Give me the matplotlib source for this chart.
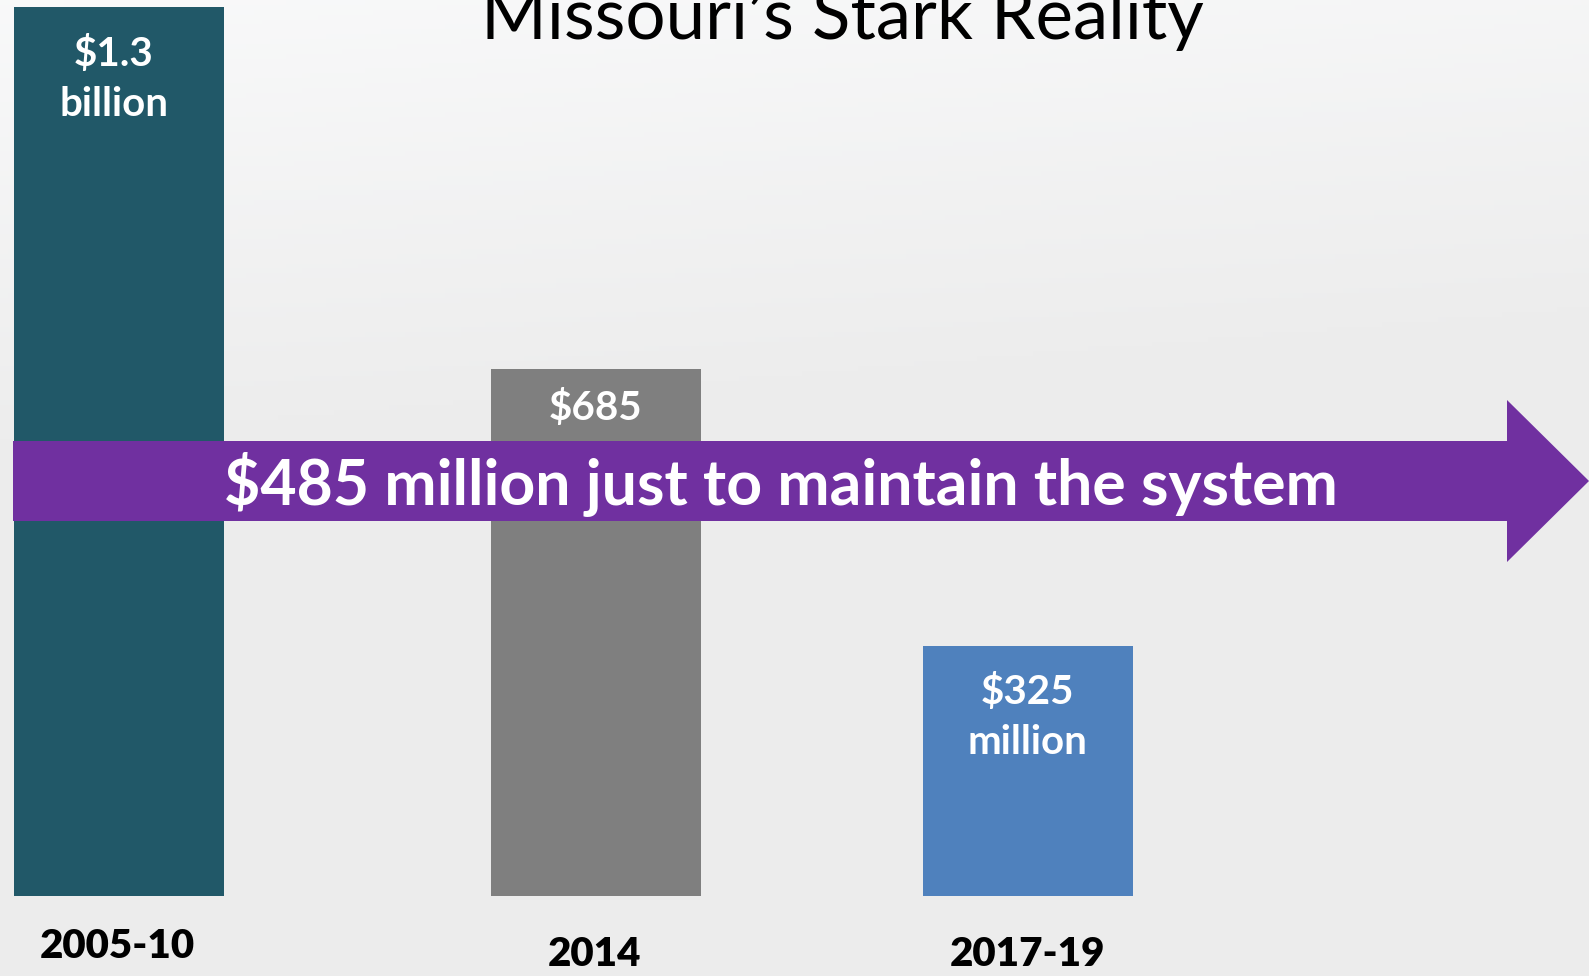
import matplotlib
matplotlib.use("Agg")
import matplotlib.pyplot as plt
import numpy as np
from matplotlib.patches import Polygon

W, H = 1589, 976
DPI = 100

# ---- data ----
categories = ["2005-10", "2014", "2017-19"]
values = [1300, 685, 325]  # $ millions
value_labels = ["$1.3\nbillion", "$685", "$325\nmillion"]
arrow_text = "$485 million just to maintain the system"
title = "Missouri\u2019s Stark Reality"

# ---- layout / style ----
positions = [118.5, 595.5, 1028]
bar_width = 210
colors = ["#215868", "#7F7F7F", "#4F81BD"]
purple = "#7030A0"
FONT = ["Lato", "DejaVu Sans"]

fig = plt.figure(figsize=(W / DPI, H / DPI), dpi=DPI)

# background gradient
bg = fig.add_axes([0, 0, 1, 1], zorder=0)
yy = np.linspace(0, 1, 200)[:, None]
xx = np.linspace(0, 1, 200)[None, :]
top = np.array([0.975, 0.977, 0.98])
bot = np.array([0.929, 0.929, 0.929])
t = np.clip(yy * 2.2 + xx * 0.3, 0, 1)[..., None]
img = top * (1 - t) + bot * t
bg.imshow(img, extent=[0, 1, 0, 1], aspect="auto", origin="upper")
bg.set_axis_off()

# main bar axes
ax_bottom = 896
ax_top = 7
ax = fig.add_axes([0, 1 - ax_bottom / H, 1, (ax_bottom - ax_top) / H], zorder=1)
ax.patch.set_alpha(0)
ax.bar(positions, values, width=bar_width, color=colors, zorder=2)
ax.set_xlim(0, W)
ax.set_ylim(0, (ax_bottom - ax_top) / 0.769)
ax.set_axis_off()

# overlay in pixel coordinates
ov = fig.add_axes([0, 0, 1, 1], zorder=3)
ov.patch.set_alpha(0)
ov.set_xlim(0, W)
ov.set_ylim(H, 0)
ov.set_axis_off()

# arrow
shaft_top, shaft_bot = 441, 521
head_top, head_bot = 400, 562
x0, xb, xt = 13, 1507, 1589
arrow = Polygon([(x0, shaft_top), (xb, shaft_top), (xb, head_top), (xt, (head_top + head_bot) / 2),
                 (xb, head_bot), (xb, shaft_bot), (x0, shaft_bot)], closed=True,
                facecolor=purple, edgecolor="none", zorder=1)
ov.add_patch(arrow)
ov.text(781, 484, arrow_text, color="white", fontsize=45, fontweight="bold", family=FONT,
        ha="center", va="center", zorder=2)

# value labels
label_pos = [(114, 79), (596, 408), (1027, 717)]
for (x, y), lab in zip(label_pos, value_labels):
    ov.text(x, y, lab, color="white", fontsize=29, fontweight="bold", family=FONT,
            ha="center", va="center", linespacing=1.45, zorder=2)

# category labels
cat_y = [947, 954, 954]
for x, y, c in zip(positions, cat_y, categories):
    ov.text(x - 1, y, c, color="black", fontsize=29, fontweight="heavy", family=FONT,
            ha="center", va="center", zorder=2)

# title (cut at top, as in the original slide)
ov.text(842, 39, title, color="black", fontsize=51, fontweight="normal", family=FONT,
        ha="center", va="baseline", zorder=2)

fig.savefig("out.png", dpi=DPI)
